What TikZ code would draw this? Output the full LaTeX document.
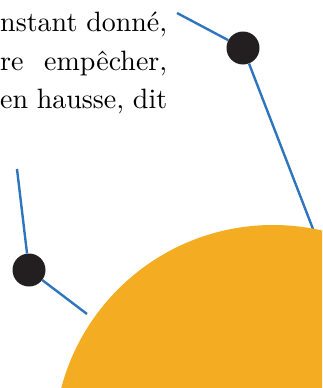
\documentclass[tikz,border=0pt]{standalone}
\usepackage{fontspec}
\setmainfont{lmroman10-regular.otf}
\usepackage{tikz}

\definecolor{linkblue}{HTML}{2E75BF}
\definecolor{dotblack}{HTML}{231F20}
\definecolor{sunorange}{HTML}{F4AD22}

\begin{document}
\begin{tikzpicture}[x=1pt,y=-1pt,
  dot/.style={circle,fill=dotblack,inner sep=0pt,minimum size=33pt},
  link/.style={draw=linkblue,line width=2.4pt},
  sun/.style={circle,fill=sunorange,inner sep=0pt,minimum size=438pt},
  txt/.style={anchor=base west,inner sep=0pt,font=\fontsize{28}{32}\selectfont}]
\useasboundingbox (0,0) rectangle (322,388);
\clip (0,0) rectangle (322,388);
% text lines, justified up to the same right edge
\foreach \i/\y/\lab in {0/31.5/{nstant donné,},1/70/{re empêcher,},2/108.5/{en hausse, dit}}{
  \node[txt] (L\i) at (0,\y) {\makebox[167pt][s]{\lab}};
}
\node[dot] (D1) at (243,48) {};
\node[dot] (D2) at (29,270) {};
\coordinate (T1) at (177,13);
\coordinate (E1) at (313,229);
\coordinate (T2) at (17,169);
\coordinate (E2) at (87,314);
% connectors
\draw[link] (T1) -- (D1) -- (E1);
\draw[link] (T2) -- (D2) -- (E2);
% big disc, drawn last so the line runs into its edge
\node[sun] (S) at (273,444) {};
\end{tikzpicture}
\end{document}
